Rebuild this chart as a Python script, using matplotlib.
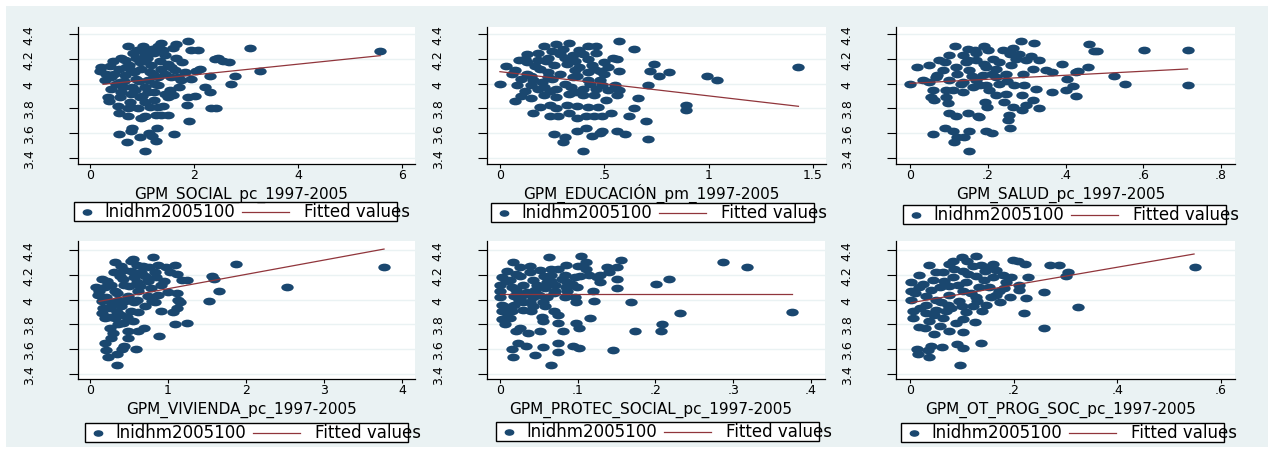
import matplotlib.pyplot as plt
from matplotlib.lines import Line2D
from matplotlib.patches import Rectangle
from matplotlib.path import Path
from matplotlib.transforms import Affine2D

W, H = 1274, 452
NAVY = "#1a476f"
MAROON = "#90353b"
BG = "#eaf2f3"

# --- datos ----------------------------------------------------------------
Y_TICKS = [3.4, 3.6, 3.8, 4.0, 4.2, 4.4]
Y_TICKLABELS = ["3.4", "3.6", "3.8", "4", "4.2", "4.4"]
LEG_POINTS = "lnidhm2005100"
LEG_FIT = "Fitted values"

# GPM_SOCIAL
SOCIAL_X = [5.57, 3.08, 3.26, 2.79, 2.71, 2.40, 2.46, 2.56, 2.67, 2.31,
            2.33, 2.42, 2.30, 2.21, 2.12, 2.03, 1.95, 2.08, 1.88, 1.66,
            1.60, 1.37, 1.12, 0.74, 1.90, 1.87, 2.01, 1.88, 1.61, 1.50,
            1.37, 1.26, 1.28, 1.13, 1.19, 0.81, 0.78, 0.96, 0.55, 0.71,
            1.06, 1.26, 0.99, 1.05, 0.73, 0.55, 0.35, 0.36, 0.58, 0.76,
            0.79, 0.92, 1.31, 1.40, 1.05, 1.24, 1.50, 1.60, 1.53, 1.72,
            0.22, 0.19, 0.28, 0.38, 0.41, 1.76, 1.82, 1.56, 1.31, 0.86,
            1.12, 0.79, 0.57, 0.47, 0.67, 0.89, 1.05, 1.24, 1.44, 1.50,
            1.37, 1.18, 0.99, 0.79, 0.67, 0.89, 1.12, 1.31, 1.05, 0.63,
            0.70, 0.96, 1.21, 0.60, 0.83, 1.31, 1.02, 1.63, 1.69, 1.95,
            1.44, 0.96, 1.15, 0.73, 0.54, 1.24,
            0.45, 0.55, 0.65, 0.75, 0.85, 0.95, 1.05, 1.15, 1.25, 1.35,
            1.45, 1.55, 0.50, 0.90, 1.10, 1.40, 0.30, 0.60, 1.00, 1.20,
            0.40, 0.80, 1.65, 1.75]
SOCIAL_Y = [4.26, 4.29, 4.10, 4.06, 4.00, 4.20, 4.21, 4.18, 4.17, 3.93,
            3.80, 3.80, 4.06, 3.97, 4.12, 4.10, 4.27, 4.27, 4.34, 4.32,
            4.29, 4.33, 4.27, 4.30, 3.70, 3.83, 3.90, 3.89, 3.59, 3.75,
            3.75, 3.75, 3.64, 3.60, 3.58, 3.64, 3.62, 3.57, 3.59, 3.53,
            3.46, 3.54, 3.72, 3.74, 3.74, 3.76, 3.89, 3.86, 3.89, 3.85,
            3.81, 3.80, 3.81, 3.82, 3.85, 3.87, 3.89, 3.91, 3.95, 3.97,
            4.13, 4.10, 4.03, 4.14, 3.96, 4.17, 4.09, 4.05, 4.05, 3.95,
            3.93, 3.92, 4.01, 4.08, 4.19, 4.21, 4.24, 4.25, 4.23, 4.16,
            4.12, 4.15, 4.12, 4.11, 4.07, 4.04, 4.03, 3.99, 3.97, 3.97,
            4.13, 4.17, 4.08, 4.21, 4.25, 4.30, 4.30, 4.11, 4.05, 4.04,
            3.92, 3.89, 3.81, 3.80, 3.82, 3.93,
            4.18, 4.12, 4.02, 4.15, 4.09, 4.02, 4.18, 4.09, 4.00, 4.18,
            4.08, 4.13, 4.00, 4.27, 4.21, 4.27, 4.08, 3.93, 3.90, 4.28,
            4.05, 3.97, 4.21, 4.03]
FIT_SOCIAL_X = [0.25, 5.58]
FIT_SOCIAL_Y = [3.994, 4.225]
SOCIAL_TICKS = [0, 2, 4, 6]
SOCIAL_TICKLABELS = ["0", "2", "4", "6"]

# GPM_EDUCACIÓN
EDU_X = [1.43, 0.99, 1.04, 0.89, 0.89, 0.81, 0.76, 0.74, 0.72, 0.71,
         0.70, 0.71, 0.66, 0.64, 0.62, 0.64, 0.57, 0.60, 0.56, 0.49,
         0.48, 0.44, 0.40, 0.31, 0.30, 0.26, 0.37, 0.41, 0.53, 0.49,
         0.45, 0.41, 0.37, 0.33, 0.28, 0.24, 0.16, 0.19, 0.07, 0.10,
         0.15, 0.00, 0.03, 0.07, 0.47, 0.42, 0.37, 0.32, 0.27, 0.24,
         0.51, 0.56, 0.57, 0.55, 0.57, 0.56, 0.54, 0.46, 0.46, 0.42,
         0.38, 0.33, 0.27, 0.21, 0.18, 0.13, 0.09, 0.13, 0.18, 0.23,
         0.29, 0.35, 0.42, 0.50, 0.50, 0.45, 0.38, 0.32, 0.26, 0.19,
         0.13, 0.10, 0.16, 0.23, 0.29, 0.35, 0.42, 0.48, 0.46, 0.40,
         0.34, 0.27, 0.21, 0.15, 0.08, 0.21, 0.27, 0.33, 0.40, 0.45,
         0.18, 0.36, 0.23,
         0.12, 0.17, 0.22, 0.25, 0.31, 0.36, 0.40, 0.44, 0.48, 0.52,
         0.15, 0.20, 0.25, 0.31, 0.37, 0.43, 0.49, 0.52, 0.12, 0.24,
         0.36, 0.30, 0.06, 0.42]
EDU_Y = [4.13, 4.06, 4.03, 3.83, 3.79, 4.09, 4.06, 4.16, 4.10, 3.99,
         3.70, 3.55, 3.88, 3.80, 3.74, 4.28, 4.34, 3.59, 3.62, 3.62,
         3.60, 3.58, 3.46, 3.57, 3.53, 3.59, 3.62, 3.64, 3.76, 3.74,
         3.74, 3.74, 3.72, 3.76, 3.74, 3.74, 3.76, 3.81, 3.86, 3.90,
         3.88, 4.00, 4.14, 4.11, 3.81, 3.81, 3.82, 3.83, 3.80, 3.83,
         3.87, 3.91, 3.95, 3.99, 4.10, 4.20, 4.21, 4.25, 4.30, 4.30,
         4.27, 4.33, 4.32, 4.30, 4.25, 4.24, 4.19, 4.17, 4.19, 4.21,
         4.24, 4.23, 4.20, 4.17, 4.08, 4.12, 4.13, 4.16, 4.15, 4.12,
         4.08, 4.04, 4.03, 4.05, 4.08, 4.05, 4.03, 4.03, 3.96, 3.96,
         3.97, 3.96, 3.97, 3.99, 3.99, 3.91, 3.89, 3.92, 3.91, 3.91,
         3.96, 4.11, 4.09,
         4.20, 4.14, 4.18, 4.26, 4.21, 4.18, 4.24, 4.15, 4.10, 4.13,
         4.06, 4.01, 4.04, 4.00, 4.06, 4.00, 3.99, 3.95, 3.94, 3.94,
         3.93, 4.28, 4.08, 4.09]
FIT_EDU_X = [0.0, 1.43]
FIT_EDU_Y = [4.096, 3.817]
EDU_TICKS = [0, 0.5, 1, 1.5]
EDU_TICKLABELS = ["0", ".5", "1", "1.5"]

# GPM_SALUD
SAL_X = [0.714, 0.714, 0.603, 0.552, 0.526, 0.481, 0.474, 0.460, 0.457, 0.431,
         0.427, 0.428, 0.419, 0.400, 0.403, 0.391, 0.364, 0.364, 0.331, 0.316,
         0.324, 0.320, 0.286, 0.298, 0.288, 0.288, 0.256, 0.251, 0.254, 0.243,
         0.266, 0.211, 0.196, 0.178, 0.174, 0.197, 0.194, 0.153, 0.140, 0.121,
         0.114, 0.151, 0.091, 0.058, 0.110, 0.101, 0.118, 0.148, 0.097, 0.063,
         0.054, 0.093, 0.000, 0.018, 0.050, 0.033, 0.058, 0.093, 0.136, 0.161,
         0.204, 0.221, 0.247, 0.268, 0.294, 0.290, 0.316, 0.333, 0.298, 0.273,
         0.256, 0.264, 0.238, 0.213, 0.191, 0.166, 0.117, 0.101, 0.136, 0.170,
         0.196, 0.221, 0.247, 0.221, 0.187, 0.153, 0.118, 0.084, 0.067, 0.101,
         0.136, 0.170, 0.075, 0.144, 0.196, 0.230,
         0.090, 0.120, 0.150, 0.170, 0.190, 0.230, 0.260, 0.280, 0.310, 0.130,
         0.160, 0.210, 0.250, 0.110, 0.180, 0.070, 0.050, 0.350, 0.200, 0.150]
SAL_Y = [4.27, 3.99, 4.27, 4.00, 4.06, 4.26, 4.26, 4.32, 4.13, 4.10,
         4.09, 3.90, 3.98, 3.95, 4.04, 4.16, 3.93, 4.09, 3.80, 3.87,
         3.96, 4.33, 4.34, 3.83, 3.79, 3.91, 3.64, 3.71, 3.75, 3.85,
         3.81, 3.60, 3.62, 3.73, 3.74, 3.81, 3.85, 3.62, 3.57, 3.57,
         3.53, 3.46, 3.64, 3.59, 3.62, 3.76, 3.74, 3.76, 3.84, 3.87,
         3.89, 3.89, 4.00, 4.13, 4.15, 4.03, 3.95, 3.95, 3.93, 3.97,
         3.95, 3.91, 3.92, 3.99, 3.99, 4.08, 4.12, 4.19, 4.19, 4.20,
         4.24, 4.29, 4.27, 4.20, 4.30, 4.27, 4.30, 4.23, 4.23, 4.19,
         4.13, 4.12, 4.08, 4.05, 4.07, 4.11, 4.13, 4.11, 4.05, 4.03,
         4.01, 4.03, 4.19, 4.17, 3.99, 4.00,
         4.17, 4.08, 4.19, 4.25, 4.16, 4.17, 4.15, 4.24, 4.22, 4.00,
         4.06, 4.08, 4.02, 3.95, 3.99, 4.07, 4.01, 4.11, 4.27, 4.28]
FIT_SAL_X = [0.0, 0.714]
FIT_SAL_Y = [4.002, 4.118]
SAL_TICKS = [0, 0.2, 0.4, 0.6, 0.8]
SAL_TICKLABELS = ["0", ".2", ".4", ".6", ".8"]

# GPM_VIVIENDA
VIV_X = [3.77, 2.53, 1.87, 1.66, 1.53, 1.56, 1.59, 1.24, 1.09, 0.88,
         1.24, 1.18, 1.12, 1.09, 1.13, 1.15, 1.11, 1.06, 1.12, 0.91,
         0.83, 0.81, 0.55, 0.52, 0.32, 0.59, 0.41, 0.43, 0.19, 0.20,
         0.23, 0.34, 0.35, 0.69, 0.62, 0.49, 0.30, 0.26, 0.55, 0.42,
         0.19, 0.15, 0.53, 0.40, 0.08, 0.10, 0.15, 0.27, 0.70, 0.87,
         1.00, 0.91, 0.74, 0.83, 0.98, 0.87, 0.68, 0.44, 0.31, 0.22,
         0.19, 0.32, 0.44, 0.57, 0.70, 0.62, 0.49, 0.36, 0.57, 0.74,
         0.64, 0.38, 0.53, 0.25, 0.40, 0.36, 0.32, 0.49, 0.27,
         0.12, 0.20, 0.27, 0.35, 0.42, 0.50, 0.60, 0.66, 0.78, 0.85,
         0.95, 0.28, 0.45, 0.60, 0.80, 0.17, 0.35, 0.48, 0.62, 0.25,
         0.40, 0.75, 1.02, 0.15, 0.60]
VIV_Y = [4.26, 4.10, 4.29, 4.07, 3.99, 4.19, 4.17, 3.81, 3.80, 3.71,
         4.16, 4.16, 4.21, 4.28, 4.00, 3.98, 3.93, 3.90, 4.05, 3.91,
         3.98, 4.34, 4.33, 4.31, 4.30, 3.60, 3.60, 3.63, 3.65, 3.59,
         3.54, 3.47, 3.56, 3.77, 3.75, 3.75, 3.73, 3.77, 3.83, 3.81,
         3.85, 3.89, 3.91, 3.88, 4.10, 4.04, 3.99, 3.95, 3.95, 4.04,
         4.06, 4.12, 4.15, 4.22, 4.26, 4.28, 4.27, 4.24, 4.22, 4.15,
         4.10, 4.07, 4.12, 4.18, 4.19, 4.07, 4.03, 4.00, 3.98, 4.03,
         4.11, 4.19, 4.23, 3.93, 3.95, 3.80, 3.85, 3.69, 3.69,
         4.07, 4.02, 4.12, 4.05, 4.17, 4.11, 4.14, 4.22, 4.09, 4.18,
         4.15, 3.98, 3.99, 4.00, 3.99, 3.93, 3.90, 3.86, 3.90, 3.86,
         4.27, 4.26, 4.22, 4.17, 4.28]
FIT_VIV_X = [0.115, 3.77]
FIT_VIV_Y = [3.986, 4.408]
VIV_TICKS = [0, 1, 2, 3, 4]
VIV_TICKLABELS = ["0", "1", "2", "3", "4"]

# GPM_PROTEC_SOCIAL
PROT_X = [0.375, 0.318, 0.287, 0.231, 0.209, 0.207, 0.218, 0.201, 0.173, 0.168,
          0.155, 0.150, 0.150, 0.150, 0.145, 0.137, 0.140, 0.129, 0.119, 0.121,
          0.116, 0.104, 0.110, 0.110, 0.103, 0.099, 0.098, 0.102, 0.101, 0.094,
          0.075, 0.075, 0.098, 0.081, 0.075, 0.075, 0.055, 0.045, 0.066, 0.034,
          0.023, 0.016, 0.017, 0.036, 0.020, 0.007, 0.026, 0.052, 0.054, 0.055,
          0.069, 0.063, 0.017, 0.085, 0.074, 0.084, 0.086, 0.086, 0.084, 0.129,
          0.071, 0.060, 0.065, 0.052, 0.039, 0.026, 0.009, 0.003, 0.000, 0.000,
          0.000, 0.003, 0.003, 0.003, 0.013, 0.015, 0.018, 0.018, 0.015, 0.013,
          0.026, 0.030, 0.030, 0.030, 0.030, 0.043, 0.043, 0.045, 0.043, 0.056,
          0.058, 0.060, 0.058, 0.071, 0.096, 0.009, 0.039, 0.096,
          0.008, 0.020, 0.035, 0.048, 0.065, 0.080, 0.092, 0.024, 0.038, 0.050,
          0.070, 0.085, 0.010, 0.020, 0.055, 0.040, 0.065, 0.100, 0.115, 0.125]
PROT_Y = [3.90, 4.26, 4.30, 3.89, 3.80, 3.75, 4.17, 4.13, 3.75, 3.98,
          4.32, 4.26, 4.17, 4.09, 3.59, 4.26, 4.22, 4.14, 4.07, 3.99,
          3.85, 4.35, 4.30, 4.25, 4.19, 4.10, 3.98, 3.77, 3.61, 3.63,
          3.65, 3.58, 3.81, 3.75, 3.81, 3.88, 3.62, 3.55, 3.47, 3.63,
          3.65, 3.60, 3.54, 3.73, 3.75, 3.80, 3.77, 3.75, 3.86, 3.83,
          3.91, 4.34, 4.30, 4.28, 4.25, 4.20, 4.14, 4.07, 4.02, 4.20,
          4.07, 4.14, 4.20, 4.24, 4.27, 4.26, 4.23, 4.18, 4.12, 4.07,
          4.02, 3.96, 3.91, 3.84, 3.85, 3.91, 3.96, 4.03, 4.10, 4.16,
          4.19, 4.12, 4.04, 3.98, 3.92, 3.95, 4.02, 4.08, 4.16, 4.19,
          4.09, 4.02, 3.95, 4.12, 4.02, 3.89, 4.22, 4.18,
          4.15, 4.21, 4.06, 4.12, 4.15, 4.17, 4.13, 4.00, 3.98, 4.04,
          4.05, 4.10, 3.94, 4.08, 3.98, 3.91, 4.25, 4.27, 4.20, 4.18]
FIT_PROT_X = [0.0, 0.375]
FIT_PROT_Y = [4.043, 4.043]
PROT_TICKS = [0, 0.1, 0.2, 0.3, 0.4]
PROT_TICKLABELS = ["0", ".1", ".2", ".3", ".4"]

# GPM_OT_PROG_SOC
OTP_X = [0.549, 0.324, 0.259, 0.259, 0.304, 0.301, 0.288, 0.271, 0.228, 0.223,
         0.219, 0.221, 0.208, 0.198, 0.211, 0.211, 0.192, 0.174, 0.156, 0.137,
         0.127, 0.100, 0.082, 0.037, 0.126, 0.103, 0.102, 0.090, 0.097, 0.061,
         0.041, 0.034, 0.014, 0.015, 0.037, 0.047, 0.076, 0.028, 0.018, 0.102,
         0.089, 0.063, 0.005, 0.005, 0.037, 0.050, 0.070, 0.108, 0.139, 0.002,
         0.002, 0.002, 0.018, 0.018, 0.031, 0.031, 0.050, 0.057, 0.044, 0.063,
         0.082, 0.076, 0.076, 0.073, 0.095, 0.102, 0.108, 0.102, 0.121, 0.127,
         0.134, 0.127, 0.121, 0.153, 0.160, 0.166, 0.179, 0.185, 0.172, 0.147,
         0.153, 0.137, 0.057, 0.031,
         0.010, 0.025, 0.040, 0.050, 0.065, 0.085, 0.092, 0.112, 0.118, 0.142,
         0.145, 0.165, 0.182, 0.195, 0.020, 0.060, 0.080, 0.100, 0.130, 0.046,
         0.075, 0.110, 0.160]
OTP_Y = [4.26, 3.94, 4.06, 3.77, 4.22, 4.19, 4.28, 4.28, 4.18, 4.01,
         3.89, 4.29, 4.31, 4.32, 4.12, 4.08, 4.02, 3.98, 4.02, 3.65,
         4.35, 4.34, 4.31, 4.28, 3.82, 3.74, 3.61, 3.64, 3.47, 3.62,
         3.63, 3.59, 3.60, 3.56, 3.54, 3.72, 3.75, 3.77, 3.78, 3.84,
         3.81, 3.85, 3.85, 3.91, 3.83, 3.92, 3.91, 3.90, 3.91, 4.00,
         4.07, 4.14, 4.20, 4.10, 4.03, 3.96, 4.00, 4.10, 4.16, 4.22,
         4.18, 4.11, 4.04, 3.96, 3.99, 4.07, 4.14, 4.23, 4.27, 4.19,
         4.10, 4.02, 3.95, 4.10, 4.18, 4.24, 4.20, 4.14, 4.07, 3.96,
         4.26, 4.28, 3.79, 3.89,
         4.05, 4.13, 4.08, 4.22, 4.15, 4.25, 4.12, 4.21, 4.05, 4.16,
         4.23, 4.04, 4.09, 4.18, 3.93, 3.98, 3.93, 3.95, 3.99, 3.88,
         4.29, 4.31, 4.29]
FIT_OTP_X = [0.002, 0.548]
FIT_OTP_Y = [3.975, 4.368]
OTP_TICKS = [0, 0.2, 0.4, 0.6]
OTP_TICKLABELS = ["0", ".2", ".4", ".6"]

# --- layout (píxeles de la imagen de referencia) ---------------------------
# (x, y, ajuste x, ajuste y, título, ticks, etiquetas,
#  caja del panel l/t/r/b, xlim, ylim, izquierda de la leyenda, tope de la leyenda)
PANELES = [
    (SOCIAL_X, SOCIAL_Y, FIT_SOCIAL_X, FIT_SOCIAL_Y, "GPM_SOCIAL_pc_1997-2005",
     SOCIAL_TICKS, SOCIAL_TICKLABELS, (78, 28, 415, 165), (-0.231, 6.25),
     (3.352, 4.456), 74, 203),
    (EDU_X, EDU_Y, FIT_EDU_X, FIT_EDU_Y, "GPM_EDUCACIÓN_pm_1997-2005",
     EDU_TICKS, EDU_TICKLABELS, (487, 28, 826, 165), (-0.062, 1.562),
     (3.352, 4.456), 491, 204),
    (SAL_X, SAL_Y, FIT_SAL_X, FIT_SAL_Y, "GPM_SALUD_pc_1997-2005",
     SAL_TICKS, SAL_TICKLABELS, (896, 28, 1235, 165), (-0.036, 0.836),
     (3.352, 4.456), 903, 206),
    (VIV_X, VIV_Y, FIT_VIV_X, FIT_VIV_Y, "GPM_VIVIENDA_pc_1997-2005",
     VIV_TICKS, VIV_TICKLABELS, (78, 242, 415, 380), (-0.154, 4.167),
     (3.36, 4.473), 85, 424),
    (PROT_X, PROT_Y, FIT_PROT_X, FIT_PROT_Y, "GPM_PROTEC_SOCIAL_pc_1997-2005",
     PROT_TICKS, PROT_TICKLABELS, (487, 242, 825, 380), (-0.0167, 0.418),
     (3.36, 4.473), 496, 423),
    (OTP_X, OTP_Y, FIT_OTP_X, FIT_OTP_Y, "GPM_OT_PROG_SOC_pc_1997-2005",
     OTP_TICKS, OTP_TICKLABELS, (896, 242, 1235, 380), (-0.027, 0.627),
     (3.36, 4.473), 901, 424),
]

# marcador elíptico (el original está estirado en horizontal)
ELIPSE = Path.unit_circle().transformed(Affine2D().scale(1.0, 0.62))


def fx(px):
    return px / W


def fy(py):
    return 1 - py / H


fig = plt.figure(figsize=(W / 100, H / 100), dpi=100)
fig.patch.set_facecolor("white")
fig.patches.append(
    Rectangle((fx(6), fy(448)), fx(1268) - fx(6), fy(7) - fy(448),
              transform=fig.transFigure, facecolor=BG, edgecolor="none", zorder=-1)
)

for (xs, ys, fitx, fity, titulo, ticks, etiquetas,
     caja, xlim, ylim, ley_x, ley_y) in PANELES:
    l, t, r, b = caja
    ax = fig.add_axes([fx(l), fy(b), fx(r) - fx(l), fy(t) - fy(b)])
    ax.set_facecolor("white")
    ax.scatter(xs, ys, s=80, marker=ELIPSE, color=NAVY, linewidths=0, zorder=3)
    ax.plot(fitx, fity, color=MAROON, lw=0.9, zorder=4)
    ax.set_xlim(*xlim)
    ax.set_ylim(*ylim)

    ax.set_yticks(Y_TICKS)
    ax.set_yticklabels(Y_TICKLABELS, rotation=90, va="center", fontsize=9)
    ax.set_xticks(ticks)
    ax.set_xticklabels(etiquetas, fontsize=9)
    ax.tick_params(axis="y", length=6.5, width=0.8, pad=24)
    ax.tick_params(axis="x", length=3, width=0.8, pad=0)
    ax.grid(axis="y", color=BG, lw=1)
    ax.set_axisbelow(True)
    for lado in ("top", "right"):
        ax.spines[lado].set_visible(False)
    for lado in ("left", "bottom"):
        ax.spines[lado].set_color("black")
        ax.spines[lado].set_linewidth(0.9)

    # título del eje x
    fig.text(fx((l + r) / 2 - 5), fy(b + 34), titulo, fontsize=11,
             ha="center", va="baseline")

    # leyenda dibujada a mano, igual que la de Stata
    fig.patches.append(
        Rectangle((fx(ley_x), fy(ley_y + 19)), 323 / W, 19 / H,
                  transform=fig.transFigure, facecolor="white",
                  edgecolor="black", lw=1, zorder=1)
    )
    cy = ley_y + 9.5
    fig.add_artist(Line2D([fx(ley_x + 13)], [fy(cy)], marker=ELIPSE, ms=6,
                          color=NAVY, ls="none", transform=fig.transFigure))
    fig.text(fx(ley_x + 30), fy(cy), LEG_POINTS, fontsize=12, va="center")
    fig.add_artist(Line2D([fx(ley_x + 168), fx(ley_x + 215)], [fy(cy), fy(cy)],
                          color=MAROON, lw=0.9, transform=fig.transFigure))
    fig.text(fx(ley_x + 230), fy(cy), LEG_FIT, fontsize=12, va="center")

fig.savefig("out.png", dpi=100)
